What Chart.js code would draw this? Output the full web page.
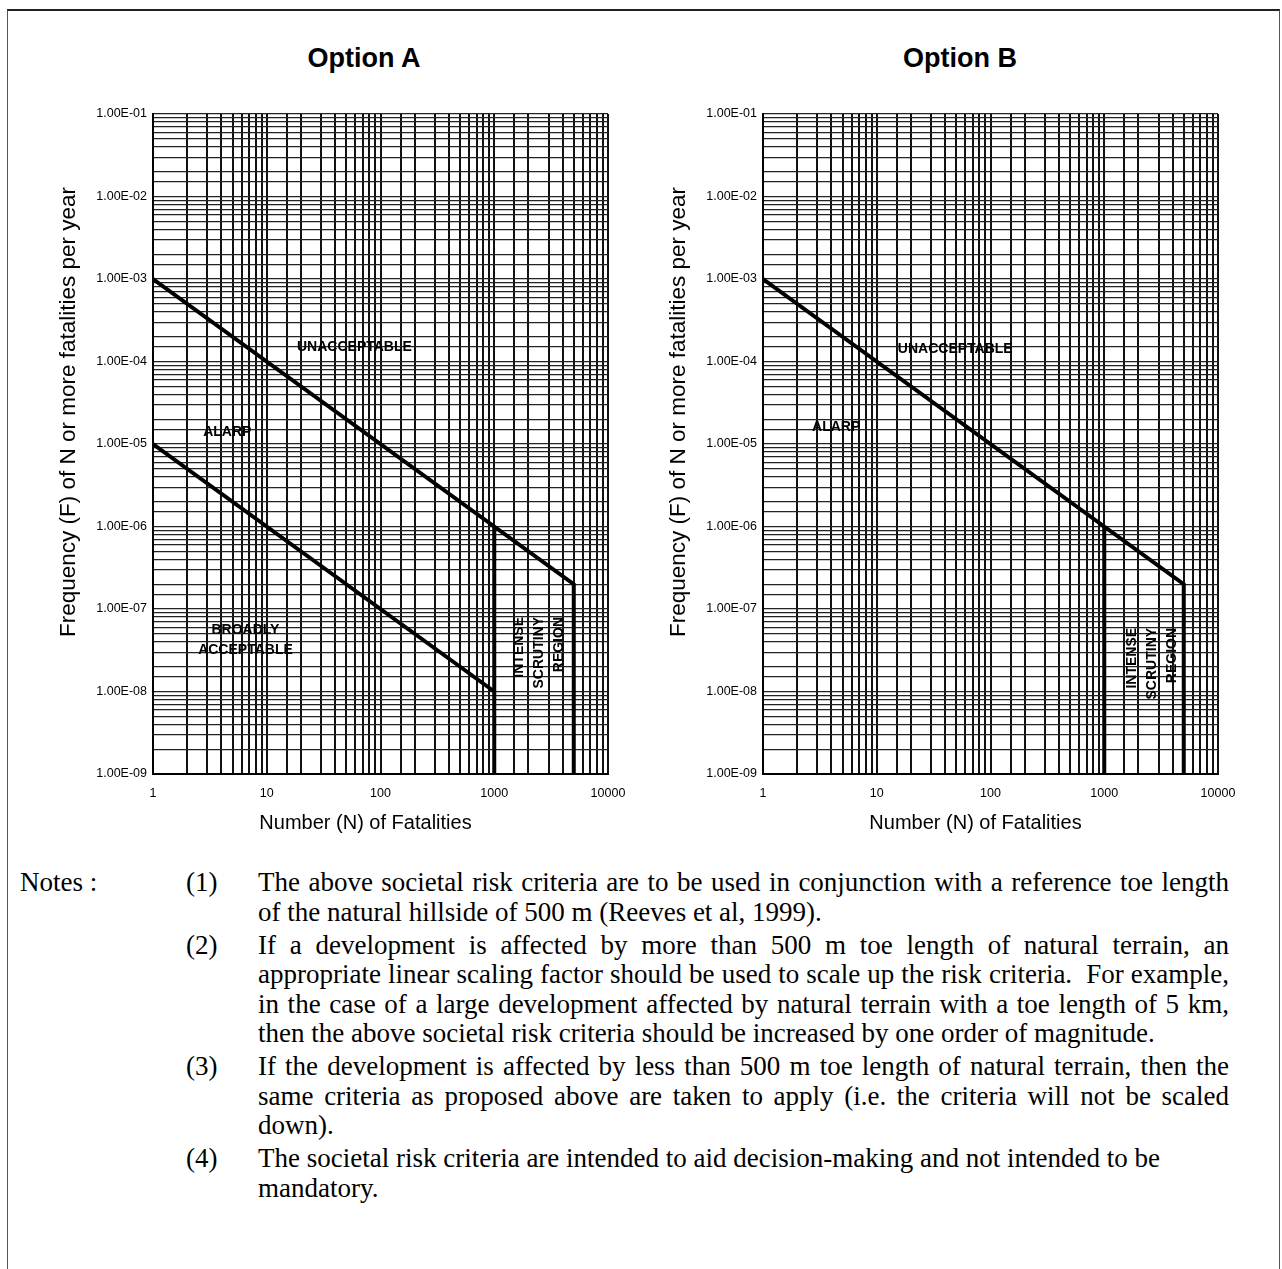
<!DOCTYPE html>
<html>
<head>
<meta charset="utf-8">
<title>Societal risk criteria - Options A and B</title>
<script src="https://cdn.jsdelivr.net/npm/chart.js@4.4.1/dist/chart.umd.min.js"></script>
<style>
  html, body { margin: 0; padding: 0; background: #fff; }
  body { width: 1282px; height: 1269px; position: relative; overflow: hidden; font-family: "Liberation Sans", Arial, sans-serif; color: #000; }
  .frame { position: absolute; left: 7px; top: 9px; width: 1271px; height: 1275px; border-top: 2px solid #222; border-left: 1.5px solid #555; border-right: 1.5px solid #555; }
  .option-title { position: absolute; top: 43px; width: 240px; text-align: center; font-weight: bold; font-size: 27px; line-height: 30px; }
  canvas { position: absolute; top: 90px; }
  .notes { position: absolute; left: 0; top: 868px; width: 1282px; font-family: "Liberation Serif", "Times New Roman", serif; font-size: 27px; line-height: 29.5px; }
  .note { position: relative; }
  .note + .note { margin-top: 3.5px; }
  .note .head { position: absolute; left: 20px; top: 0; }
  .note .num { position: absolute; left: 186px; top: 0; }
  .note .line { margin-left: 258px; width: 971px; white-space: nowrap; }
  .note .j { text-align: justify; text-align-last: justify; }
</style>
</head>
<body>
<div class="frame"></div>
<div class="option-title" style="left:244px">Option A</div>
<div class="option-title" style="left:840px">Option B</div>
<canvas id="chartA" width="672" height="760" style="left:28px"></canvas>
<canvas id="chartB" width="644" height="760" style="left:638px"></canvas>

<div class="notes">
  <div class="note">
    <span class="head">Notes :</span><span class="num">(1)</span>
    <div class="line j">The above societal risk criteria are to be used in conjunction with a reference toe length</div>
    <div class="line">of the natural hillside of 500 m (Reeves et al, 1999).</div>
  </div>
  <div class="note">
    <span class="num">(2)</span>
    <div class="line j">If a development is affected by more than 500 m toe length of natural terrain, an</div>
    <div class="line j">appropriate linear scaling factor should be used to scale up the risk criteria.&nbsp; For example,</div>
    <div class="line j">in the case of a large development affected by natural terrain with a toe length of 5 km,</div>
    <div class="line">then the above societal risk criteria should be increased by one order of magnitude.</div>
  </div>
  <div class="note">
    <span class="num">(3)</span>
    <div class="line j">If the development is affected by less than 500 m toe length of natural terrain, then the</div>
    <div class="line j">same criteria as proposed above are taken to apply (i.e. the criteria will not be scaled</div>
    <div class="line">down).</div>
  </div>
  <div class="note">
    <span class="num">(4)</span>
    <div class="line">The societal risk criteria are intended to aid decision-making and not intended to be</div>
    <div class="line">mandatory.</div>
  </div>
</div>

<script>
// Axis tick labels (log scales)
const nTickLabels = ['1', '10', '100', '1000', '10000'];
const fTickLabels = ['1.00E-09', '1.00E-08', '1.00E-07', '1.00E-06', '1.00E-05', '1.00E-04', '1.00E-03', '1.00E-02', '1.00E-01'];

// Upper criterion line (both options): 1E-03 at N=1, slope -1, then vertical at N=5000
const upperN = [1, 5000, 5000];
const upperF = [1e-3, 2e-7, 1e-9];

// Lower criterion line (Option A only)
const lowerN = [1, 1000];
const lowerF = [1e-5, 1e-8];

// Vertical cut-off at N = 1000 (both options)
const cutN = [1000, 1000];
const cutF = [1e-6, 1e-9];

const xTitle = 'Number (N) of Fatalities';
const yTitle = 'Frequency (F) of N or more fatalities per year';

function toPoints(ns, fs) {
    return ns.map((n, i) => ({ x: n, y: fs[i] }));
}

function decadeLabel(value, labels, firstExp) {
    const e = Math.log10(value);
    const r = Math.round(e);
    if (Math.abs(e - r) > 1e-6) return '';
    return labels[r - firstExp] || '';
}

const FONT = '"Liberation Sans", Arial, sans-serif';

// Text written over the chart regions, placed at data coordinates
const regionLabels = {
    id: 'regionLabels',
    afterDatasetsDraw(chart, args, opts) {
        const { ctx, scales: { x, y } } = chart;
        ctx.save();
        ctx.fillStyle = '#000';
        ctx.font = 'bold 14px ' + FONT;
        ctx.textBaseline = 'middle';
        opts.items.forEach(item => {
            ctx.save();
            ctx.translate(x.getPixelForValue(item.n), y.getPixelForValue(item.f));
            if (item.vertical) {
                ctx.rotate(-Math.PI / 2);
                ctx.textAlign = 'right';
            } else {
                ctx.textAlign = 'center';
            }
            item.lines.forEach((line, i) => {
                ctx.fillText(line, 0, (i - (item.lines.length - 1) / 2) * 20);
            });
            ctx.restore();
        });
        ctx.restore();
    }
};

// Axis titles: in the original they sit a little off the plot centre
const axisTitles = {
    id: 'axisTitles',
    afterDraw(chart) {
        const { ctx, chartArea: a } = chart;
        ctx.save();
        ctx.fillStyle = '#000';
        ctx.textAlign = 'center';
        ctx.textBaseline = 'middle';
        ctx.font = '20px ' + FONT;
        ctx.fillText(xTitle, (a.left + a.right) / 2 - 15, a.bottom + 49);
        ctx.translate(a.left - 84, (a.top + a.bottom) / 2 - 32);
        ctx.rotate(-Math.PI / 2);
        ctx.font = '22.5px ' + FONT;
        ctx.fillText(yTitle, 0, 0);
        ctx.restore();
    }
};

function lineDataset(ns, fs) {
    return {
        data: toPoints(ns, fs),
        showLine: true,
        borderColor: '#000',
        borderWidth: 4,
        pointRadius: 0,
        fill: false,
        tension: 0
    };
}

function makeChart(id, datasets, items, padLeft, padRight) {
    return new Chart(document.getElementById(id), {
        type: 'scatter',
        data: { datasets: datasets },
        plugins: [regionLabels, axisTitles],
        options: {
            responsive: false,
            animation: false,
            layout: { padding: { left: padLeft, right: padRight, top: 24, bottom: 12 } },
            plugins: {
                legend: { display: false },
                tooltip: { enabled: false },
                regionLabels: { items: items }
            },
            scales: {
                x: {
                    type: 'logarithmic',
                    min: Number(nTickLabels[0]),
                    max: Number(nTickLabels[nTickLabels.length - 1]),
                    grid: { color: '#111', lineWidth: 2, drawTicks: false },
                    border: { color: '#000', width: 2 },
                    ticks: {
                        autoSkip: false,
                        maxRotation: 0,
                        padding: 12,
                        color: '#000',
                        font: { family: FONT, size: 12.5 },
                        callback: v => decadeLabel(v, nTickLabels, 0)
                    },
                    afterFit(scale) { scale.height = 64; }
                },
                y: {
                    type: 'logarithmic',
                    min: Number(fTickLabels[0]),
                    max: Number(fTickLabels[fTickLabels.length - 1]),
                    grid: { color: '#222', lineWidth: 1.2, drawTicks: false },
                    border: { color: '#000', width: 2 },
                    ticks: {
                        autoSkip: false,
                        padding: 6,
                        color: '#000',
                        font: { family: FONT, size: 12.5 },
                        callback: v => decadeLabel(v, fTickLabels, -9)
                    },
                    afterFit(scale) { scale.width = 125 - padLeft; }
                }
            }
        }
    });
}

makeChart('chartA',
    [lineDataset(upperN, upperF), lineDataset(lowerN, lowerF), lineDataset(cutN, cutF)],
    [
        { lines: ['UNACCEPTABLE'], n: 59, f: 1.5e-4 },
        { lines: ['ALARP'], n: 4.5, f: 1.4e-5 },
        { lines: ['BROADLY', 'ACCEPTABLE'], n: 6.5, f: 4.2e-8 },
        { lines: ['INTENSE', 'SCRUTINY', 'REGION'], n: 2480, f: 8e-8, vertical: true }
    ],
    26, 92);

makeChart('chartB',
    [lineDataset(upperN, upperF), lineDataset(cutN, cutF)],
    [
        { lines: ['UNACCEPTABLE'], n: 49, f: 1.42e-4 },
        { lines: ['ALARP'], n: 4.4, f: 1.6e-5 },
        { lines: ['INTENSE', 'SCRUTINY', 'REGION'], n: 2630, f: 5.9e-8, vertical: true }
    ],
    29, 64);
</script>
</body>
</html>
